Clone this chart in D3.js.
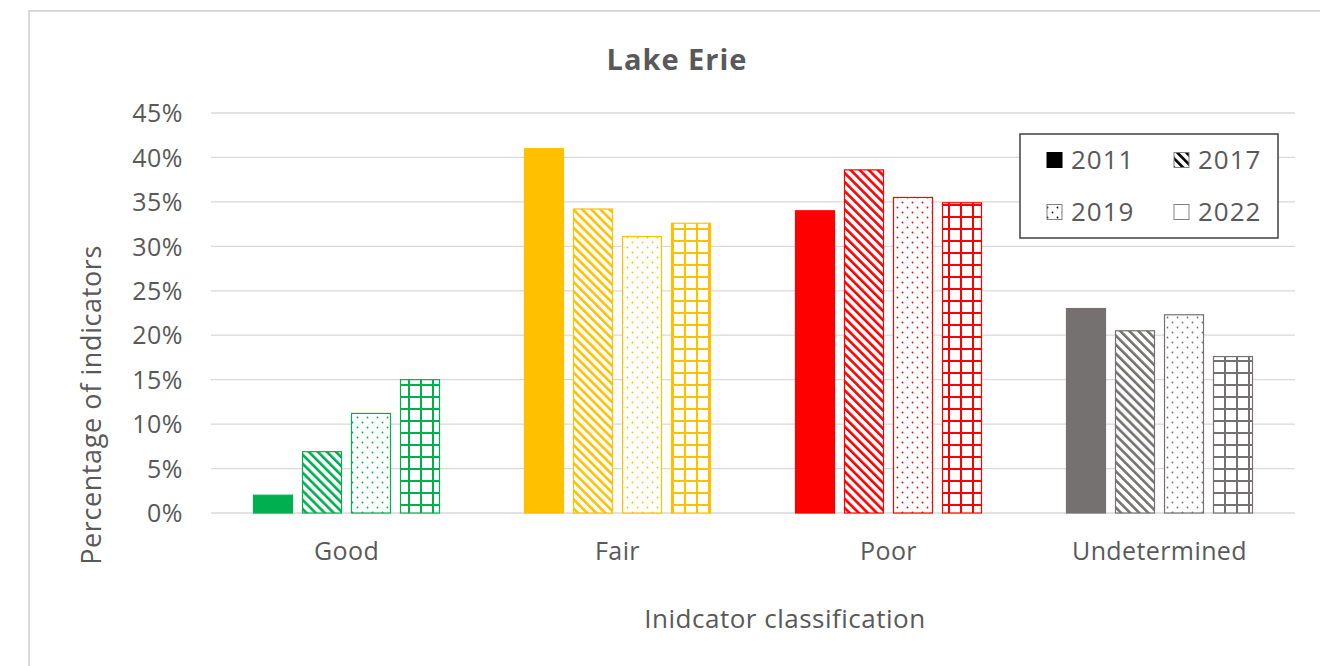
<!DOCTYPE html>
<html><head><meta charset="utf-8">
<script src="https://cdn.jsdelivr.net/npm/d3@7"></script>
<style>
html,body{margin:0;padding:0;background:#fff;}
svg{display:block;}
text{font-family:"Open Sans","Noto Sans",sans-serif;fill:#595959;}
</style></head>
<body>
<svg id="chart" width="1320" height="666"></svg>
<script>
const title = "Lake Erie";
const categories = ["Good", "Fair", "Poor", "Undetermined"];
const years = ["2011", "2017", "2019", "2022"];
const v2011 = [0.020, 0.410, 0.340, 0.230];
const v2017 = [0.069, 0.342, 0.386, 0.205];
const v2019 = [0.112, 0.311, 0.355, 0.223];
const v2022 = [0.150, 0.326, 0.349, 0.176];
const categoryColors = ["#00B050", "#FFC000", "#FF0000", "#767171"];
const yTicks = [0, 0.05, 0.10, 0.15, 0.20, 0.25, 0.30, 0.35, 0.40, 0.45];
const yLabel = "Percentage of indicators";
const xLabel = "Inidcator classification";

const series = [v2011, v2017, v2019, v2022];
const W = 1320, H = 666;
const M = {left: 211, right: 1295, top: 113, bottom: 513};

const svg = d3.select("#chart");
const defs = svg.append("defs");

svg.append("rect").attr("x", 29).attr("y", 11).attr("width", W).attr("height", H)
  .attr("fill", "#fff").attr("stroke", "#d9d9d9").attr("stroke-width", 2);

function patternId(yi, color) { return "p" + yi + "_" + color.replace("#", ""); }
function makePatterns(color) {
  const p1 = defs.append("pattern").attr("id", patternId(1, color))
    .attr("patternUnits", "userSpaceOnUse").attr("width", 6.4).attr("height", 6.4)
    .attr("patternTransform", "rotate(-45)");
  p1.append("rect").attr("width", 6.4).attr("height", 6.4).attr("fill", "#fff");
  p1.append("rect").attr("width", 2.6).attr("height", 6.4).attr("fill", color);
  const p2 = defs.append("pattern").attr("id", patternId(2, color))
    .attr("patternUnits", "userSpaceOnUse").attr("width", 10).attr("height", 10);
  p2.append("rect").attr("width", 10).attr("height", 10).attr("fill", "#fff");
  p2.append("circle").attr("cx", 2.5).attr("cy", 2.5).attr("r", 0.9).attr("fill", color);
  p2.append("circle").attr("cx", 7.5).attr("cy", 7.5).attr("r", 0.9).attr("fill", color);
  const p3 = defs.append("pattern").attr("id", patternId(3, color))
    .attr("patternUnits", "userSpaceOnUse").attr("width", 12).attr("height", 12);
  p3.append("rect").attr("width", 12).attr("height", 12).attr("fill", "#fff");
  p3.append("rect").attr("x", 0).attr("width", 2).attr("height", 12).attr("fill", color);
  p3.append("rect").attr("y", 0).attr("width", 12).attr("height", 2).attr("fill", color);
}
categoryColors.forEach(makePatterns);
makePatterns("#000000");
function fillFor(yi, color) { return yi === 0 ? color : "url(#" + patternId(yi, color) + ")"; }

const x0 = d3.scaleBand().domain(categories).range([M.left, M.right])
  .paddingInner(0.31).paddingOuter(0.155);
const x1 = d3.scaleBand().domain(years).range([0, x0.bandwidth()]).paddingInner(0.184).paddingOuter(0);
const y = d3.scaleLinear().domain([0, 0.45]).range([M.bottom, M.top]);

svg.append("g").selectAll("line").data(yTicks).join("line")
  .attr("x1", M.left).attr("x2", M.right)
  .attr("y1", d => y(d)).attr("y2", d => y(d))
  .attr("stroke", "#d9d9d9").attr("stroke-width", 1.3);

const yAxis = d3.axisLeft(y).tickValues(yTicks).tickFormat(d3.format(".0%")).tickSize(0).tickPadding(0);
const gy = svg.append("g").attr("transform", `translate(${M.left - 28},0)`).call(yAxis);
gy.select(".domain").remove();
gy.selectAll("text").style("font-size", "25px").style("letter-spacing", "0.5px")
  .style("font-family", "'Open Sans'").attr("fill", "#595959").attr("dy", "0.35em");

const xAxis = d3.axisBottom(x0).tickSize(0).tickPadding(0);
const gx = svg.append("g").attr("transform", `translate(0,${M.bottom + 38})`).call(xAxis);
gx.select(".domain").remove();
gx.selectAll("text").style("font-size", "25px").style("letter-spacing", "0.4px")
  .style("font-family", "'Open Sans'").attr("fill", "#595959").attr("dy", "0.35em");

const barData = [];
categories.forEach((c, ci) => years.forEach((yr, yi) => {
  barData.push({c, ci, yr, yi, v: series[yi][ci]});
}));
svg.append("g").selectAll("rect").data(barData).join("rect")
  .attr("x", d => x0(d.c) + x1(d.yr) + 0.5)
  .attr("y", d => y(d.v))
  .attr("width", x1.bandwidth() - 1)
  .attr("height", d => y(0) - y(d.v))
  .attr("fill", d => fillFor(d.yi, categoryColors[d.ci]))
  .attr("stroke", d => categoryColors[d.ci])
  .attr("stroke-width", 1.2);

svg.append("text").attr("x", 677).attr("y", 60).attr("dy", "0.35em").attr("text-anchor", "middle")
  .style("font-size", "29px").style("letter-spacing", "1px").style("font-weight", "bold").text(title);

svg.append("text").attr("transform", "translate(92,405) rotate(-90)").attr("dy", "0.35em").attr("text-anchor", "middle")
  .style("font-size", "27px").style("letter-spacing", "0.6px").text(yLabel);
svg.append("text").attr("x", 785).attr("y", 619).attr("dy", "0.35em").attr("text-anchor", "middle")
  .style("font-size", "26px").style("letter-spacing", "0.5px").text(xLabel);

const lg = svg.append("g");
lg.append("rect").attr("x", 1020).attr("y", 134).attr("width", 258).attr("height", 104)
  .attr("fill", "#fff").attr("stroke", "#404040").attr("stroke-width", 1.5);
const legendPos = [[1047, 160], [1174, 160], [1047, 212], [1174, 212]];
years.forEach((yr, yi) => {
  const [lx, ly] = legendPos[yi];
  lg.append("rect").attr("x", lx).attr("y", ly - 7.5).attr("width", 15).attr("height", 15)
    .attr("fill", yi === 3 ? "#fff" : fillFor(yi, "#000000"))
    .attr("stroke", yi === 0 ? "#000" : "#808080").attr("stroke-width", 1);
  lg.append("text").attr("x", lx + 24).attr("y", ly).attr("dy", "0.36em")
    .style("font-size", "26px").style("letter-spacing", "1px").text(yr);
});
</script>
</body></html>
